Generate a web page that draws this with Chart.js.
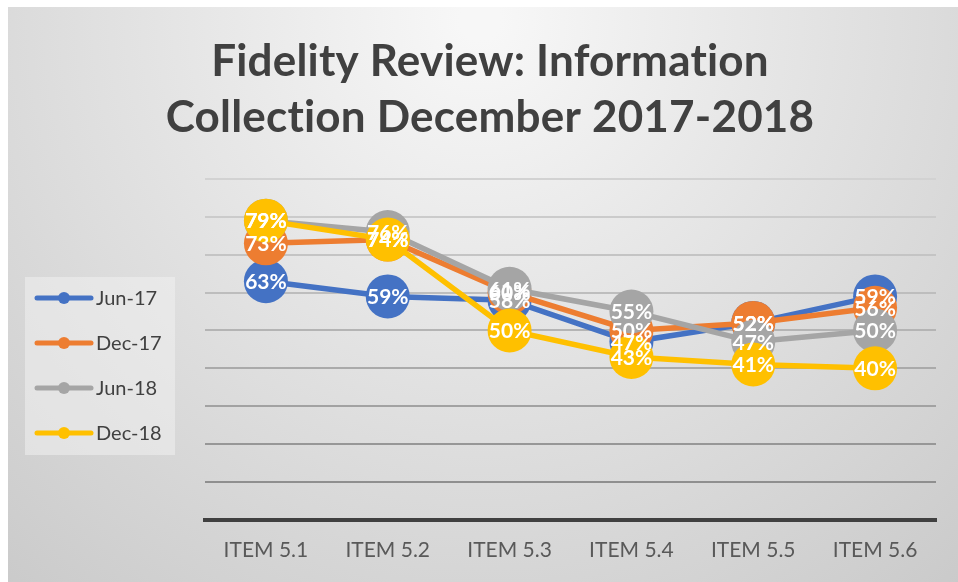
<!DOCTYPE html>
<html>
<head>
<meta charset="utf-8">
<script src="https://cdn.jsdelivr.net/npm/chart.js@4"></script>
<style>
  html, body { margin: 0; padding: 0; background: #ffffff; }
  #wrap { position: relative; width: 958px; height: 582px; }
</style>
</head>
<body>
<div id="wrap"><canvas id="chart" width="958" height="582"></canvas></div>
<script>
// Categories and series (percent values)
const categories = ['ITEM 5.1', 'ITEM 5.2', 'ITEM 5.3', 'ITEM 5.4', 'ITEM 5.5', 'ITEM 5.6'];
const seriesNames = ['Jun-17', 'Dec-17', 'Jun-18', 'Dec-18'];
const jun17 = [63, 59, 58, 47, 52, 59];
const dec17 = [73, 74, 60, 50, 52, 56];
const jun18 = [79, 76, 61, 55, 47, 50];
const dec18 = [79, 74, 50, 43, 41, 40];
const seriesColors = ['#4472C4', '#ED7D31', '#A5A5A5', '#FFC000'];
const titleLines = ['Fidelity Review: Information', 'Collection December 2017-2018'];

const FONT = 'Lato, "Open Sans", "Liberation Sans", sans-serif';

// Soft radial backdrop behind the whole chart
const backdrop = {
  id: 'backdrop',
  beforeDraw(chart) {
    const ctx = chart.ctx;
    const w = chart.width, h = chart.height;
    ctx.save();
    ctx.fillStyle = '#ffffff';
    ctx.fillRect(0, 0, w, h);
    const g = ctx.createRadialGradient(480, 20, 20, 480, 20, 760);
    g.addColorStop(0, '#f7f7f7');
    g.addColorStop(0.45, '#e2e2e2');
    g.addColorStop(1, '#c9c9c9');
    ctx.fillStyle = g;
    ctx.fillRect(8, 7, w - 8, h - 7);
    ctx.restore();
  }
};

// Two-line heading centred over the full canvas
const heading = {
  id: 'heading',
  afterDraw(chart) {
    const ctx = chart.ctx;
    ctx.save();
    ctx.font = 'bold 44px ' + FONT;
    ctx.fillStyle = '#404040';
    ctx.textAlign = 'center';
    ctx.textBaseline = 'middle';
    if ('letterSpacing' in ctx) ctx.letterSpacing = '0.2px';
    titleLines.forEach((t, i) => ctx.fillText(t, 490, 62 + i * 56));
    ctx.restore();
  }
};

// Value labels centred on each marker (drawn after all markers)
const valueLabels = {
  id: 'valueLabels',
  afterDatasetsDraw(chart) {
    const ctx = chart.ctx;
    ctx.save();
    ctx.font = 'bold 21px ' + FONT;
    ctx.fillStyle = '#ffffff';
    ctx.textAlign = 'center';
    ctx.textBaseline = 'middle';
    chart.data.datasets.forEach((ds, i) => {
      const meta = chart.getDatasetMeta(i);
      meta.data.forEach((pt, j) => {
        ctx.fillText(ds.data[j] + '%', pt.x, pt.y + 1);
      });
    });
    ctx.restore();
  }
};

// Boxed legend on the left with line + marker samples
const sideLegend = {
  id: 'sideLegend',
  afterDraw(chart) {
    const ctx = chart.ctx;
    ctx.save();
    ctx.fillStyle = 'rgba(240,240,240,0.55)';
    ctx.fillRect(25, 277, 150, 178);
    ctx.font = '20px ' + FONT;
    ctx.textBaseline = 'middle';
    ctx.textAlign = 'left';
    chart.data.datasets.forEach((ds, i) => {
      const y = 298 + i * 45;
      ctx.strokeStyle = ds.borderColor;
      ctx.lineWidth = 5;
      ctx.lineCap = 'round';
      ctx.beginPath();
      ctx.moveTo(37, y);
      ctx.lineTo(91, y);
      ctx.stroke();
      ctx.fillStyle = ds.borderColor;
      ctx.beginPath();
      ctx.arc(64, y, 6, 0, Math.PI * 2);
      ctx.fill();
      ctx.fillStyle = '#404040';
      ctx.fillText(ds.label, 96, y + 1);
    });
    ctx.restore();
  }
};

const seriesData = [jun17, dec17, jun18, dec18];
const datasets = seriesNames.map((name, i) => ({
  label: name,
  data: seriesData[i],
  order: seriesNames.length - i,   // later series painted on top
  borderColor: seriesColors[i],
  backgroundColor: seriesColors[i],
  borderWidth: 5.5,
  pointRadius: 22,
  pointHoverRadius: 22,
  pointBorderWidth: 0,
  tension: 0
}));

const gridColors = ['#3f3f3f', '#8f8f8f', '#979797', '#a2a2a2', '#aaaaaa', '#b4b4b4', '#bdbdbd', '#c4c4c4', '#cbcbcb', '#d2d2d2'];

new Chart(document.getElementById('chart'), {
  type: 'line',
  data: { labels: categories, datasets },
  plugins: [backdrop, valueLabels, sideLegend, heading],
  options: {
    responsive: false,
    animation: false,
    layout: { padding: { left: 205, right: 12, top: 179, bottom: 9 } },
    plugins: {
      legend: { display: false },
      tooltip: { enabled: false },
      title: { display: false }
    },
    scales: {
      x: {
        offset: true,
        grid: { display: false },
        border: { display: true, color: '#404040', width: 4 },
        ticks: { color: '#595959', font: { family: FONT, size: 21 }, padding: 10 }
      },
      y: {
        min: 0,
        max: 90,
        ticks: { display: false, stepSize: 10 },
        border: { display: false },
        grid: {
          lineWidth: 2,
          drawTicks: false,
          color: (c) => c.index === 0 ? 'rgba(0,0,0,0)' : gridColors[c.index]
        }
      }
    }
  }
});
</script>
</body>
</html>
